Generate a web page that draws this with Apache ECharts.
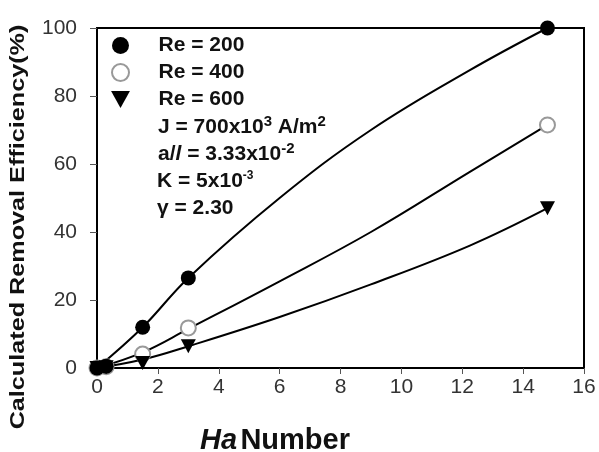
<!DOCTYPE html>
<html>
<head>
<meta charset="utf-8">
<script src="https://cdn.jsdelivr.net/npm/echarts@6/dist/echarts.min.js"></script>
<style>
html,body{margin:0;padding:0;background:#fff;}
#chart{width:599px;height:452px;}
</style>
</head>
<body>
<div id="chart"></div>
<script>
// Marker data (Ha number, efficiency %)
var re200Points = [[0, 0], [0.3, 0.5], [1.5, 12], [3, 26.5], [14.8, 100]];
var re400Points = [[0, 0], [0.3, 0.4], [1.5, 4.1], [3, 11.8], [14.8, 71.5]];
var re600Points = [[0, 0], [0.3, 0.2], [1.5, 1.5], [3, 6.4], [14.8, 47]];
// Calculated curves
var re200Curve = [[0, 0], [1.5, 12], [3, 26.5], [6, 50], [9, 70], [12.25, 87.6], [14.8, 100]];
var re400Curve = [[0, 0], [1.5, 4.6], [3, 11.5], [6, 25.5], [9, 40], [12.25, 57.7], [14.8, 71.5]];
var re600Curve = [[0, 0], [1.5, 2.5], [3, 6.4], [6, 15], [9, 24.6], [12.25, 36], [14.8, 47]];
var seriesNames = ['Re = 200', 'Re = 400', 'Re = 600'];
var xTicks = {min: 0, max: 16, interval: 2};
var yTicks = {min: 0, max: 100, interval: 20};

var FONT = '"Liberation Sans", Arial, sans-serif';
var triPath = 'path://M0,0L10,0L5,9Z';

var chart = echarts.init(document.getElementById('chart'));

function curve(data) {
  return {
    type: 'line', data: data, smooth: 0.4, showSymbol: false, symbol: 'none',
    lineStyle: {color: '#000', width: 2}, z: 2, silent: true
  };
}

var supStyle = {fontFamily: FONT, fontWeight: 'bold', fontSize: 15, fill: '#111', verticalAlign: 'bottom', padding: [0, 0, 9, 0]};
var baseStyle = {fontFamily: FONT, fontWeight: 'bold', fontSize: 21, fill: '#111', verticalAlign: 'bottom'};

chart.setOption({
  backgroundColor: '#fff',
  animation: false,
  grid: {left: 97, right: 15, top: 28, bottom: 84, show: true, borderColor: '#000', borderWidth: 2, backgroundColor: 'transparent'},
  xAxis: {
    type: 'value', min: xTicks.min, max: xTicks.max, interval: xTicks.interval,
    axisLine: {show: true, lineStyle: {color: '#000', width: 2}},
    axisTick: {show: true, inside: false, length: 6, lineStyle: {color: '#555', width: 1}},
    axisLabel: {margin: 9, fontFamily: FONT, fontSize: 21, color: '#333'},
    splitLine: {show: false}
  },
  yAxis: {
    type: 'value', min: yTicks.min, max: yTicks.max, interval: yTicks.interval,
    axisLine: {show: true, lineStyle: {color: '#000', width: 2}},
    axisTick: {show: true, inside: false, length: 7, lineStyle: {color: '#555', width: 1}},
    axisLabel: {margin: 20, fontFamily: FONT, fontSize: 21, color: '#333'},
    splitLine: {show: false}
  },
  legend: {
    data: [
      {name: seriesNames[0], icon: 'circle'},
      {name: seriesNames[1], icon: 'emptyCircle'},
      {name: seriesNames[2], icon: triPath}
    ],
    orient: 'vertical', left: 106, top: 30,
    itemWidth: 66, itemHeight: 17, itemGap: 6,
    textStyle: {fontFamily: FONT, fontWeight: 'bold', fontSize: 21, color: '#111'},
    selectedMode: false
  },
  series: [
    curve(re200Curve), curve(re400Curve), curve(re600Curve),
    {name: seriesNames[0], type: 'scatter', data: re200Points, symbol: 'circle', symbolSize: 15,
     itemStyle: {color: '#000', opacity: 1}, z: 5},
    {name: seriesNames[1], type: 'scatter', data: re400Points, symbol: 'emptyCircle', symbolSize: 15,
     itemStyle: {color: '#999', borderColor: '#999', borderWidth: 1.5, opacity: 1}, z: 4},
    {name: seriesNames[2], type: 'scatter', data: re600Points, symbol: triPath, symbolSize: [15, 14],
     itemStyle: {color: '#000', opacity: 1}, z: 6}
  ],
  graphic: [
    {type: 'text', left: 158, top: 114, z: 10, style: {
      text: '{b|J = 700x10}{s|3}{b| A/m}{s|2}', rich: {b: baseStyle, s: supStyle}}},
    {type: 'text', left: 158, top: 141, z: 10, style: {
      text: '{b|a/}{i|l}{b| = 3.33x10}{s|-2}', rich: {b: baseStyle, s: supStyle,
        i: {fontFamily: FONT, fontWeight: 'bold', fontStyle: 'italic', fontSize: 21, fill: '#111', verticalAlign: 'bottom'}}}},
    {type: 'text', left: 157, top: 170, z: 10, style: {
      text: '{b|K = 5x10}{s|-3}', rich: {b: baseStyle, s: {fontFamily: FONT, fontWeight: 'bold', fontSize: 12, fill: '#111', verticalAlign: 'bottom', padding: [0, 0, 10, 0]}}}},
    {type: 'text', left: 157, top: 198, z: 10, style: {
      text: 'γ = 2.30', fontFamily: FONT, fontWeight: 'bold', fontSize: 21, fill: '#111'}},
    {type: 'text', x: 18, y: 227, rotation: Math.PI / 2, scaleX: 1.26, z: 10, style: {
      text: 'Calculated Removal Efficiency(%)', fontFamily: FONT, fontWeight: 'bold', fontSize: 20,
      fill: '#111', align: 'center', verticalAlign: 'middle'}},
    {type: 'text', left: 200, top: 426, z: 10, style: {
      text: '{i|Ha} {b|Number}', rich: {
        i: {fontFamily: FONT, fontWeight: 'bold', fontStyle: 'italic', fontSize: 29, fill: '#111'},
        b: {fontFamily: FONT, fontWeight: 'bold', fontSize: 29, fill: '#111'}}}}
  ]
});
</script>
</body>
</html>
